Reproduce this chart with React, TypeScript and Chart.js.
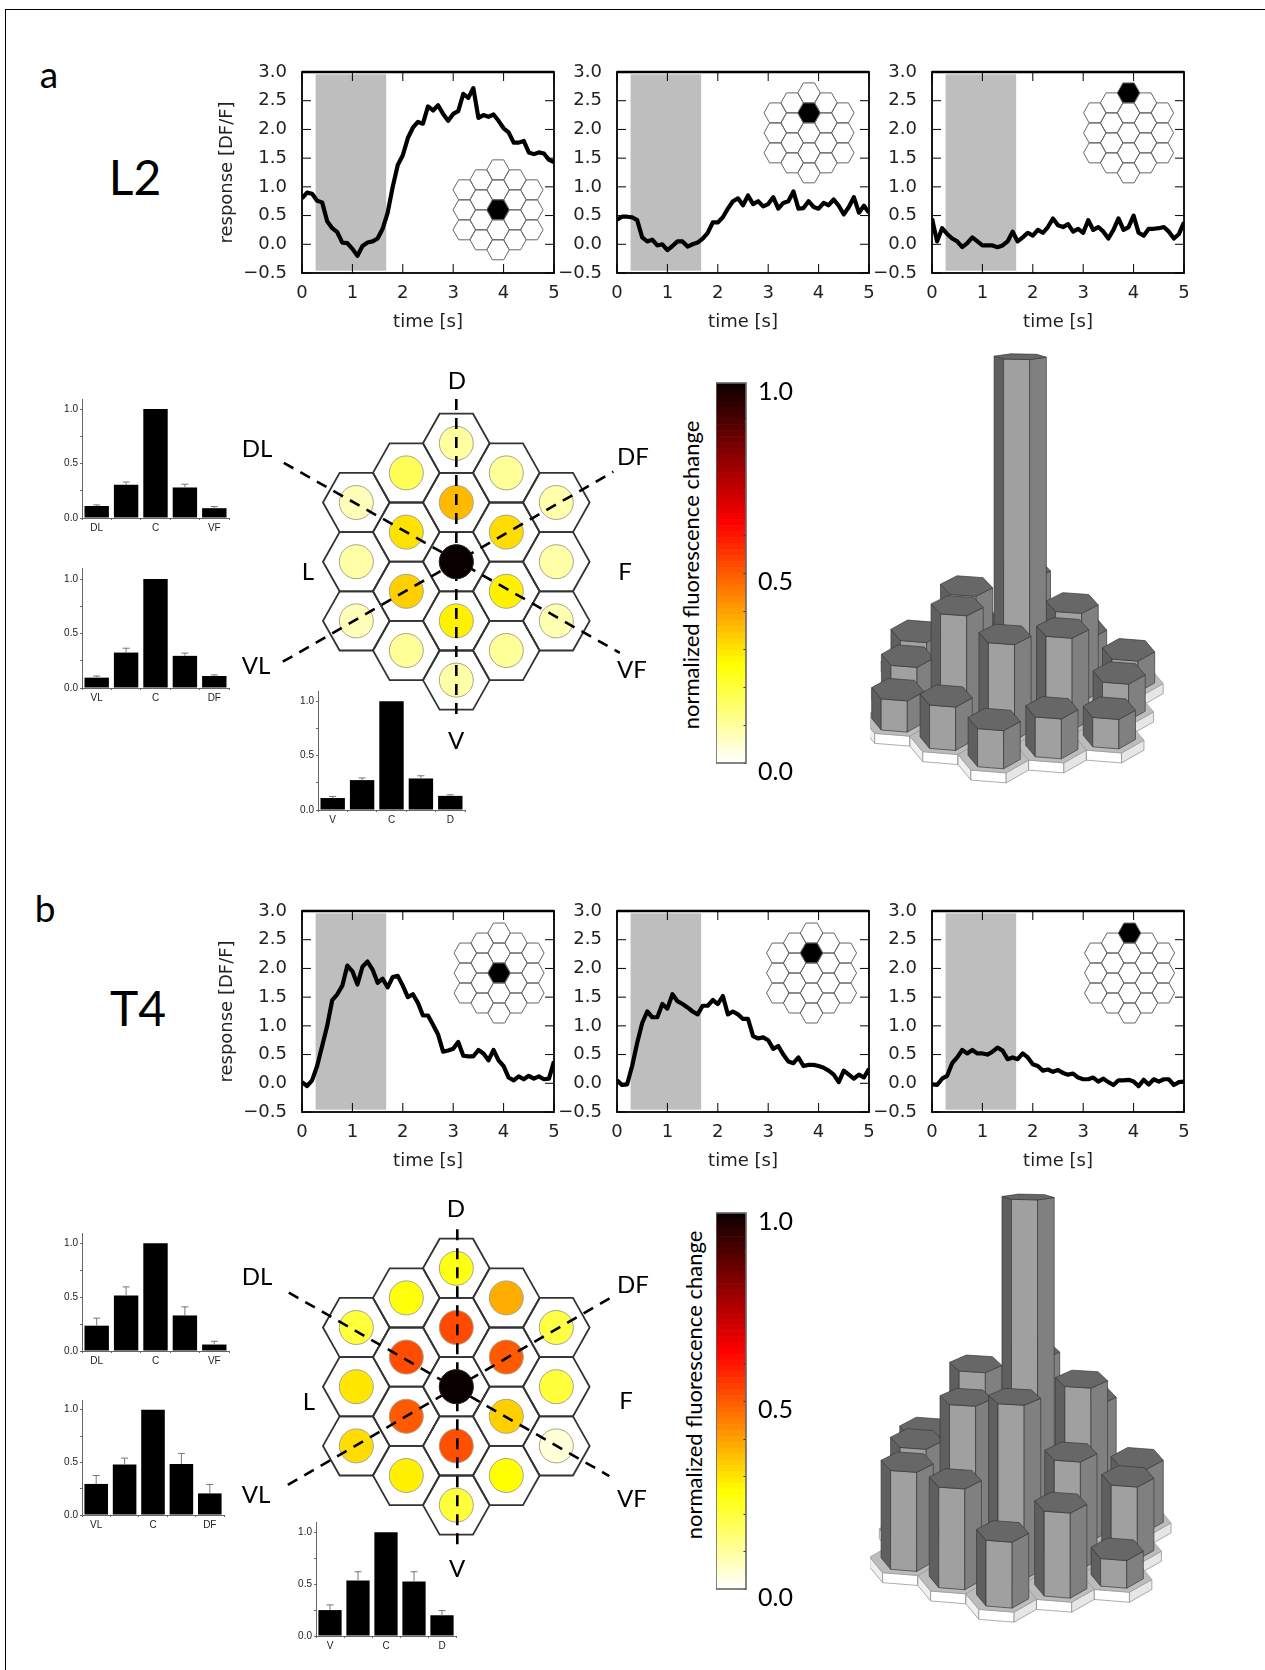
import React, { useEffect, useRef } from "react";
import { Chart, registerables } from "chart.js";
Chart.register(...registerables);

// ---------- data ----------
const timeSeconds = [0,.1,.2,.3,.4,.5,.6,.7,.8,.9,1,1.1,1.2,1.3,1.4,1.5,1.6,1.7,1.8,1.9,2,2.1,2.2,2.3,2.4,2.5,2.6,2.7,2.8,2.9,3,3.1,3.2,3.3,3.4,3.5,3.6,3.7,3.8,3.9,4,4.1,4.2,4.3,4.4,4.5,4.6,4.7,4.8,4.9,5];
const l2Center = [.80,.90,.88,.76,.73,.40,.28,.21,.03,.02,-.08,-.20,-.03,.03,.05,.10,.27,.55,1.00,1.38,1.55,1.85,2.03,2.13,2.10,2.40,2.33,2.42,2.27,2.15,2.27,2.32,2.62,2.55,2.72,2.20,2.25,2.22,2.26,2.15,2.02,1.95,1.77,1.77,1.80,1.60,1.57,1.60,1.58,1.47,1.43];
const l2Near = [.43,.48,.48,.47,.42,.12,.05,.08,-.02,0,-.10,-.03,.05,.05,-.04,0,.03,.10,.20,.38,.38,.47,.62,.75,.80,.68,.85,.70,.75,.66,.70,.82,.62,.72,.75,.92,.62,.63,.75,.65,.62,.72,.68,.78,.67,.52,.65,.82,.55,.67,.55];
const l2Far = [.45,.05,.28,.18,.10,.05,-.05,.02,.12,.05,-.02,-.02,-.02,-.05,-.02,.05,.22,.05,.12,.20,.15,.25,.20,.30,.45,.33,.30,.35,.22,.27,.20,.42,.25,.30,.22,.10,.25,.45,.25,.30,.50,.20,.15,.27,.27,.28,.30,.22,.10,.18,.38];
const t4Center = [.02,-.05,.05,.30,.65,1.00,1.45,1.55,1.70,2.05,1.95,1.72,2.03,2.12,1.98,1.75,1.82,1.67,1.85,1.87,1.70,1.50,1.55,1.40,1.18,1.18,1.02,.85,.55,.57,.60,.72,.48,.47,.47,.58,.52,.40,.58,.40,.30,.10,.05,.12,.07,.13,.08,.12,.07,.08,.38];
const t4Near = [.05,-.03,-.02,.30,.70,1.05,1.25,1.15,1.15,1.38,1.30,1.55,1.43,1.38,1.32,1.25,1.20,1.35,1.35,1.45,1.38,1.52,1.20,1.25,1.20,1.12,1.12,.82,.78,.80,.75,.60,.65,.50,.38,.35,.45,.30,.32,.32,.30,.27,.22,.15,.02,.22,.15,.08,.15,.10,.25];
const t4Far = [-.02,-.03,.08,.13,.35,.45,.58,.52,.58,.52,.52,.50,.55,.62,.57,.42,.45,.42,.52,.45,.33,.30,.22,.24,.20,.23,.18,.15,.17,.10,.07,.07,.10,.03,.08,.02,-.03,.05,.05,.06,.03,-.05,.06,-.02,.07,.03,.07,.07,-.03,.02,.03];
const stimulusWindow = [0.27, 1.67];
const responseTicks = [-0.5, 0, 0.5, 1, 1.5, 2, 2.5, 3];

const l2LabelsDL = ["DL", "", "C", "", "VF"];
const l2LabelsVL = ["VL", "", "C", "", "DF"];
const l2LabelsV = ["V", "", "C", "", "D"];
const l2BarsDL = [.11, .305, 1, .28, .09];
const l2ErrDL = [.12, .33, 1, .31, .105];
const l2BarsVL = [.095, .325, 1, .295, .11];
const l2ErrVL = [.11, .365, 1, .32, .12];
const l2BarsV = [.11, .275, 1, .29, .13];
const l2ErrV = [.125, .295, 1, .315, .14];
const t4BarsDL = [.235, .515, 1, .33, .06];
const t4ErrDL = [.305, .595, 1, .41, .09];
const t4BarsVL = [.295, .48, 1, .485, .205];
const t4ErrVL = [.375, .54, 1, .585, .29];
const t4BarsV = [.25, .535, 1, .525, .2];
const t4ErrV = [.30, .62, 1, .62, .245];

// hexagon columns, left to right; each column from top to bottom
const l2Map = [[.07,.09,.07],[.17,.30,.33,.105],[.098,.36,1,.28,.09],[.105,.31,.28,.105],[.085,.09,.08]];
const t4Map = [[.2,.295,.31],[.25,.52,.50,.28],[.24,.523,1,.515,.2],[.38,.50,.33,.26],[.19,.2,.04]];
const l2Heights = [[.095,.105,.09],[.10,.28,.305,.125],[.10,.30,1,.275,.11],[.10,.255,.265,.115],[.09,.105,.085]];
const t4Heights = [[.22,.27,.285],[.24,.46,.445,.29],[.24,.47,1,.50,.19],[.31,.44,.31,.245],[.18,.21,.08]];

const l2Axes = [[[0,2.75],[0,-2.64]],[[-3.45,1.67],[3.27,-1.54]],[[-3.47,-1.69],[3.14,1.52]]];
const t4Axes = [[[0.02,2.66],[0.02,-2.67]],[[-3.35,1.59],[3.06,-1.51]],[[-3.37,-1.66],[3.18,1.55]]];

const colorStops: [number, number[]][] = [[0,[255,255,255]],[.26,[255,255,0]],[.63,[255,0,0]],[1,[10,0,0]]];
function heat(v: number) {
  for (let i = 1; i < colorStops.length; i++) {
    const [a, ca] = colorStops[i - 1], [b, cb] = colorStops[i];
    if (v <= b) {
      const f = (v - a) / (b - a);
      return `rgb(${ca.map((c, k) => Math.round(c + (cb[k] - c) * f)).join(",")})`;
    }
  }
  return "rgb(10,0,0)";
}

// ---------- helpers ----------
const LATO = "Lato, 'Open Sans', sans-serif";
const HEX = [[-2/3,0],[-1/3,.5],[1/3,.5],[2/3,0],[1/3,-.5],[-1/3,-.5]];
const cellsOf = (cols: number[][]) => cols.flatMap((col, c) => col.map((v, i) => ({ col: c - 2, row: (col.length - 1) / 2 - i, v })));
const base = { animation: false as const, responsive: false, events: [] as string[], maintainAspectRatio: false };
const noLegend = { legend: { display: false }, tooltip: { enabled: false } };
const noPad = (s: any) => { s.paddingTop = 0; s.paddingBottom = 0; s.paddingLeft = 0; s.paddingRight = 0; };

function timePanel(series: number[], inset: number[], active: number[], withTitle: boolean) {
  const plugin = {
    id: "panel",
    beforeDatasetsDraw(c: any) {
      const { ctx, scales: { x, y } } = c;
      ctx.save();
      ctx.fillStyle = "#bebebe";
      ctx.fillRect(x.getPixelForValue(stimulusWindow[0]), y.getPixelForValue(2.96), x.getPixelForValue(stimulusWindow[1]) - x.getPixelForValue(stimulusWindow[0]), y.getPixelForValue(-0.46) - y.getPixelForValue(2.96));
      ctx.restore();
    },
    afterDatasetsDraw(c: any) {
      const { ctx, chartArea: a, scales: { x, y } } = c;
      ctx.save();
      // inset hexagon map
      const rx = 0.335, ry = 0.348;
      cellsOf(l2Map).forEach((cell) => {
        ctx.beginPath();
        HEX.forEach(([dx, dy], i) => {
          const px = x.getPixelForValue(inset[0] + (cell.col + dx) * rx);
          const py = y.getPixelForValue(inset[1] + (cell.row + dy) * ry);
          i ? ctx.lineTo(px, py) : ctx.moveTo(px, py);
        });
        ctx.closePath();
        const on = cell.col === active[0] && cell.row === active[1];
        ctx.fillStyle = on ? "#000" : "rgba(255,255,255,0)";
        ctx.fill();
        ctx.strokeStyle = "#666";
        ctx.lineWidth = 1;
        ctx.stroke();
      });
      // frame and inward ticks
      ctx.strokeStyle = "#000";
      ctx.lineWidth = 1;
      x.ticks.forEach((t: any) => {
        const px = x.getPixelForValue(t.value);
        ctx.beginPath(); ctx.moveTo(px, a.bottom); ctx.lineTo(px, a.bottom - 9); ctx.stroke();
        ctx.beginPath(); ctx.moveTo(px, a.top); ctx.lineTo(px, a.top + 9); ctx.stroke();
      });
      y.ticks.forEach((t: any) => {
        const py = y.getPixelForValue(t.value);
        ctx.beginPath(); ctx.moveTo(a.left, py); ctx.lineTo(a.left + 9, py); ctx.stroke();
        ctx.beginPath(); ctx.moveTo(a.right, py); ctx.lineTo(a.right - 9, py); ctx.stroke();
      });
      ctx.lineWidth = 1.8;
      ctx.strokeRect(a.left, a.top, a.right - a.left, a.bottom - a.top);
      ctx.lineWidth = 2.6;
      ctx.beginPath(); ctx.moveTo(a.left, a.top); ctx.lineTo(a.right, a.top); ctx.stroke();
      ctx.restore();
    },
  };
  const font = { family: "'DejaVu Sans'", size: 18 };
  return {
    type: "scatter",
    data: { datasets: [{ data: series.map((v, i) => ({ x: timeSeconds[i], y: v })), showLine: true, borderColor: "#000", borderWidth: 4.2, pointRadius: 0, tension: 0, borderJoinStyle: "round" }] },
    options: {
      ...base,
      layout: { autoPadding: false, padding: { top: 12, right: 14, left: 0, bottom: 0 } },
      plugins: noLegend,
      scales: {
        x: { type: "linear", min: 0, max: 5, afterFit: (s: any) => { s.height = 70; noPad(s); },
          grid: { display: false }, border: { display: false },
          ticks: { stepSize: 1, color: "#222", font, padding: 2, maxRotation: 0 },
          title: { display: true, text: "time [s]", color: "#222", font, padding: { top: 0, bottom: 10 } } },
        y: { type: "linear", min: -0.5, max: 3, afterFit: (s: any) => { s.width = 90; noPad(s); },
          afterBuildTicks: (s: any) => { s.ticks = responseTicks.map((value) => ({ value })); },
          grid: { display: false }, border: { display: false },
          ticks: { color: "#222", font, padding: 7, callback: (v: number) => (v < 0 ? "\u2212" + Math.abs(v).toFixed(1) : v.toFixed(1)) },
          title: { display: withTitle, text: "response [DF/F]", color: "#222", font, padding: { top: 5, bottom: 5 } } },
      },
    },
    plugins: [plugin],
  };
}

function barPanel(labels: string[], values: number[], tops: number[], plotH: number, yMax: number) {
  const font = { family: "'Liberation Sans'", size: 10 };
  const plugin = {
    id: "err",
    afterDatasetsDraw(c: any) {
      const { ctx, scales: { x, y } } = c;
      ctx.save();
      ctx.strokeStyle = "#777";
      ctx.lineWidth = 1;
      tops.forEach((t, i) => {
        if (t <= values[i]) return;
        const px = x.getPixelForValue(i), a = y.getPixelForValue(values[i]), b = y.getPixelForValue(t);
        ctx.beginPath(); ctx.moveTo(px, a); ctx.lineTo(px, b); ctx.moveTo(px - 3.5, b); ctx.lineTo(px + 3.5, b); ctx.stroke();
      });
      ctx.restore();
    },
  };
  return {
    type: "bar",
    data: { labels, datasets: [{ data: values, backgroundColor: "#000", barPercentage: 0.83, categoryPercentage: 1 }] },
    options: {
      ...base,
      layout: { autoPadding: false, padding: { top: 2, right: 4, left: 0, bottom: 0 } },
      plugins: noLegend,
      scales: {
        x: { afterFit: (s: any) => { s.height = 22; noPad(s); }, grid: { drawOnChartArea: false, tickLength: 2, color: "#666" }, border: { color: "#666" },
          ticks: { font, color: "#222", padding: 2, autoSkip: false, maxRotation: 0 } },
        y: { min: 0, max: yMax, afterFit: (s: any) => { s.width = 30; noPad(s); },
          afterBuildTicks: (s: any) => { s.ticks = [0, .25, .5, .75, 1].map((value) => ({ value })); },
          grid: { drawOnChartArea: false, tickLength: 2, color: "#666" }, border: { color: "#666" },
          ticks: { font, color: "#222", padding: 2, autoSkip: false, callback: (v: number) => (v * 2 === Math.round(v * 2) ? v.toFixed(1) : "") } },
      },
    },
    plugins: [plugin],
  };
}

function hexMap(values: number[][], axes: number[][][], w: number, h: number, ox: number, oy: number) {
  const cells = cellsOf(values);
  const plugin = {
    id: "hexes",
    beforeDatasetsDraw(c: any) {
      const { ctx, scales: { x, y } } = c;
      ctx.save();
      ctx.strokeStyle = "#333";
      ctx.lineWidth = 1.8;
      ctx.lineJoin = "miter";
      cells.forEach((cell) => {
        ctx.beginPath();
        HEX.forEach(([dx, dy], i) => {
          const px = x.getPixelForValue(cell.col + dx), py = y.getPixelForValue(cell.row + dy);
          i ? ctx.lineTo(px, py) : ctx.moveTo(px, py);
        });
        ctx.closePath();
        ctx.stroke();
      });
      ctx.restore();
    },
  };
  const lines = axes.map((seg) => ({
    data: seg.map(([a, b]) => ({ x: a, y: b })), showLine: true, pointRadius: 0, borderColor: "#000", borderWidth: 2.6, borderDash: [11, 8], order: 1,
  }));
  return {
    type: "scatter",
    data: { datasets: [
      { data: cells.filter((c) => c.v === 1).map((c) => ({ x: c.col, y: c.row })), pointRadius: 17, pointBackgroundColor: heat(1), pointBorderColor: "#222", pointBorderWidth: 1, order: 0 },
      ...lines,
      { data: cells.map((c) => ({ x: c.col, y: c.row })), pointRadius: 17, pointBackgroundColor: cells.map((c) => heat(c.v)), pointBorderColor: "#a5a58a", pointBorderWidth: 1, order: 2 },
    ] },
    options: {
      ...base,
      layout: { autoPadding: false, padding: 0 },
      plugins: noLegend,
      scales: {
        x: { type: "linear", display: false, min: -ox / 50, max: (w - ox) / 50 },
        y: { type: "linear", display: false, min: -(h - oy) / 59.2, max: oy / 59.2 },
      },
    },
    plugins: [plugin],
  };
}

function tower(heights: number[][], w: number, h: number, ox: number, oy: number, unit: number) {
  const cells = cellsOf(heights);
  const U = [52.9, 4.2], V = [9.6, -28.3];
  const plugin = {
    id: "tower",
    afterDatasetsDraw(c: any) {
      const { ctx, scales: { x, y } } = c;
      const pt = (col: number, row: number, z: number, dc: number, dr: number, depth: number, shift = 0) => [
        x.getPixelForValue(ox + (col + dc) * U[0] + (row + dr) * V[0] + shift),
        y.getPixelForValue(oy + (col * U[1] + row * V[1]) + (dc * U[1] + dr * V[1]) * depth - z),
      ];
      const poly = (pts: number[][], fill: string, stroke: string, lw: number) => {
        ctx.beginPath();
        pts.forEach((p, i) => (i ? ctx.lineTo(p[0], p[1]) : ctx.moveTo(p[0], p[1])));
        ctx.closePath();
        ctx.fillStyle = fill; ctx.fill();
        ctx.strokeStyle = stroke; ctx.lineWidth = lw; ctx.stroke();
      };
      const faces: [number, number, number][] = [[0, 5, 0], [5, 4, 1], [4, 3, 2]];
      const order = [...cells].sort((a, b) => (a.col * U[1] + a.row * V[1]) - (b.col * U[1] + b.row * V[1]));
      ctx.save();
      ctx.lineJoin = "round";
      const plateSides = ["#efefef", "#ffffff", "#e6e6e6"];
      order.forEach((cell) => {
        faces.forEach(([a, b, s]) => {
          const pA = pt(cell.col, cell.row, 0, HEX[a][0], HEX[a][1], 1), pB = pt(cell.col, cell.row, 0, HEX[b][0], HEX[b][1], 1);
          const qA = pt(cell.col, cell.row, -10, HEX[a][0], HEX[a][1], 1), qB = pt(cell.col, cell.row, -10, HEX[b][0], HEX[b][1], 1);
          poly([pA, pB, qB, qA], plateSides[s], "#8a8a8a", 0.7);
        });
        poly(HEX.map(([dx, dy]) => pt(cell.col, cell.row, 0, dx, dy, 1)), "#bcbcbc", "#999", 0.7);
      });
      const sides = ["#5f5f5f", "#a0a0a0", "#808080"];
      const S = 0.74;
      order.forEach((cell) => {
        const z = cell.v * unit;
        const depth = 1 - 0.75 * Math.pow(cell.v, 1.5);
        const shift = z * 0.0224;
        faces.forEach(([a, b, s]) => {
          const p1 = pt(cell.col, cell.row, 0, HEX[a][0] * S, HEX[a][1] * S, 1, shift), p2 = pt(cell.col, cell.row, 0, HEX[b][0] * S, HEX[b][1] * S, 1, shift);
          const p3 = pt(cell.col, cell.row, z, HEX[b][0] * S, HEX[b][1] * S, depth, shift), p4 = pt(cell.col, cell.row, z, HEX[a][0] * S, HEX[a][1] * S, depth, shift);
          poly([p1, p2, p3, p4], sides[s], "#3a3a3a", 0.7);
        });
        poly(HEX.map(([dx, dy]) => pt(cell.col, cell.row, z, dx * S, dy * S, depth, shift)), "#676767", "#3a3a3a", 0.7);
      });
      ctx.restore();
    },
  };
  return {
    type: "scatter",
    data: { datasets: [{ data: [], pointRadius: 0 }] },
    options: {
      ...base,
      layout: { autoPadding: false, padding: 0 },
      plugins: noLegend,
      scales: {
        x: { type: "linear", display: false, min: 0, max: w },
        y: { type: "linear", display: false, min: 0, max: h, reverse: true },
      },
    },
    plugins: [plugin],
  };
}

const colorLevels = Array.from({ length: 64 }, (_, i) => (i + 0.5) / 64);
function colorBar() {
  const plugin = {
    id: "cbar",
    afterDatasetsDraw(c: any) {
      const { ctx, chartArea: a, scales: { y } } = c;
      ctx.save();
      ctx.strokeStyle = "#333";
      ctx.lineWidth = 1;
      y.ticks.forEach((t: any) => {
        const py = Math.round(y.getPixelForValue(t.value)) + 0.5;
        ctx.beginPath(); ctx.moveTo(a.right, py); ctx.lineTo(a.right - 2.5, py); ctx.stroke();
      });
      ctx.strokeStyle = "#666";
      ctx.lineWidth = 1.6;
      ctx.strokeRect(a.left, a.top, a.right - a.left, a.bottom - a.top);
      ctx.restore();
    },
  };
  return {
    type: "bar",
    data: { labels: [""], datasets: colorLevels.map((v) => ({ data: [1 / 64], backgroundColor: heat(v), barPercentage: 1, categoryPercentage: 1 })) },
    options: {
      ...base,
      layout: { autoPadding: false, padding: { top: 20, bottom: 30, left: 0, right: 0 } },
      plugins: noLegend,
      scales: {
        x: { stacked: true, display: false },
        y: { stacked: true, position: "right", min: 0, max: 1, afterFit: (s: any) => { s.width = 60; noPad(s); },
          grid: { display: false, drawTicks: false }, border: { display: false },
          afterBuildTicks: (s: any) => { s.ticks = [0,.1,.2,.3,.4,.5,.6,.7,.8,.9,1].map((value) => ({ value })); },
          ticks: { autoSkip: false, padding: 12, labelOffset: 9, color: "#000", font: { family: LATO, size: 25 },
            callback: (v: number) => (Math.abs(v * 2 - Math.round(v * 2)) < 1e-6 ? v.toFixed(1) : "") } },
      },
    },
    plugins: [plugin],
  };
}

// ---------- placement ----------
const panels: { l: number; t: number; w: number; h: number; cfg: () => any }[] = [];
const timeLefts = [302, 617, 932];
const timeRows = [
  { top: 72, sets: [l2Center, l2Near, l2Far], insets: [[3.89, .6], [3.81, 1.94], [3.9, 1.94]] },
  { top: 911, sets: [t4Center, t4Near, t4Far], insets: [[3.91, 1.92], [3.86, 1.92], [3.92, 1.92]] },
];
const activeCells = [[0, 0], [0, 1], [0, 2]];
timeRows.forEach((row) => row.sets.forEach((s, i) => {
  panels.push({ l: timeLefts[i] - 90, t: row.top - 12, w: 90 + 252 + 14, h: 12 + 201 + 70, cfg: () => timePanel(s, row.insets[i], activeCells[i], i === 0) });
}));
const addBar = (labels: string[], vals: number[], tops: number[], axisX: number, axisEnd: number, y0: number, y1: number, yTop: number) => {
  const yMax = (y0 - yTop) / (y0 - y1);
  panels.push({ l: Math.round(axisX) - 30, t: Math.round(yTop) - 2, w: 30 + Math.round(axisEnd - axisX) + 4, h: 2 + Math.round(y0 - yTop) + 22, cfg: () => barPanel(labels, vals, tops, y0 - yTop, yMax) });
};
addBar(l2LabelsDL, l2BarsDL, l2ErrDL, 82, 229, 518.3, 409.3, 399.3);
addBar(l2LabelsVL, l2BarsVL, l2ErrVL, 82, 229, 688, 579, 568);
addBar(l2LabelsV, l2BarsV, l2ErrV, 318, 465, 810, 701.3, 691);
addBar(l2LabelsDL, t4BarsDL, t4ErrDL, 82, 229, 1351.3, 1243.3, 1233);
addBar(l2LabelsVL, t4BarsVL, t4ErrVL, 82, 224, 1515, 1409.7, 1400);
addBar(l2LabelsV, t4BarsV, t4ErrV, 316, 456, 1635.3, 1532, 1521.7);

panels.push({ l: 270, t: 385, w: 370, h: 345, cfg: () => hexMap(l2Map, l2Axes, 370, 345, 186.3, 176.7) });
panels.push({ l: 270, t: 1210, w: 370, h: 345, cfg: () => hexMap(t4Map, t4Axes, 370, 345, 186.3, 176.7) });
panels.push({ l: 870, t: 350, w: 390, h: 440, cfg: () => tower(l2Heights, 390, 440, 142.5, 350.7, 344) });
panels.push({ l: 870, t: 1180, w: 390, h: 460, cfg: () => tower(t4Heights, 390, 460, 150.4, 360, 343) });
panels.push({ l: 716, t: 363, w: 90, h: 430, cfg: colorBar });
panels.push({ l: 716, t: 1193, w: 90, h: 426, cfg: colorBar });

const words: { s: string; x: number; y: number; z: number; r?: number }[] = [
  { s: "a", x: 49, y: 73, z: 37 }, { s: "b", x: 45, y: 907, z: 37 },
  { s: "L2", x: 135, y: 177, z: 48 }, { s: "T4", x: 138, y: 1008, z: 48 },
  { s: "D", x: 457, y: 380, z: 24 }, { s: "DL", x: 257, y: 448, z: 24 }, { s: "DF", x: 633, y: 456, z: 24 },
  { s: "L", x: 308, y: 571, z: 24 }, { s: "F", x: 625, y: 571, z: 24 }, { s: "VL", x: 256, y: 665, z: 24 },
  { s: "VF", x: 632, y: 669, z: 24 }, { s: "V", x: 456, y: 740, z: 24 },
  { s: "D", x: 456, y: 1208, z: 24 }, { s: "DL", x: 257, y: 1276, z: 24 }, { s: "DF", x: 633, y: 1284, z: 24 },
  { s: "L", x: 309, y: 1401, z: 24 }, { s: "F", x: 626, y: 1400, z: 24 }, { s: "VL", x: 256, y: 1494, z: 24 },
  { s: "VF", x: 632, y: 1498, z: 24 }, { s: "V", x: 457, y: 1568, z: 24 },
  { s: "normalized fluorescence change", x: 691, y: 575, z: 22, r: -90 },
  { s: "normalized fluorescence change", x: 694, y: 1385, z: 22, r: -90 },
];

function Panel({ l, t, w, h, cfg }: { l: number; t: number; w: number; h: number; cfg: () => any }) {
  const ref = useRef<HTMLCanvasElement>(null);
  useEffect(() => {
    const chart = new Chart(ref.current as HTMLCanvasElement, cfg());
    return () => chart.destroy();
  }, []);
  return <canvas ref={ref} width={w} height={h} style={{ position: "absolute", left: l, top: t, width: w, height: h }} />;
}

export default function App() {
  return (
    <div style={{ position: "absolute", left: 0, top: 0, width: 1265, height: 1670, background: "#fff", overflow: "hidden" }}>
      <div style={{ position: "absolute", left: 5, top: 9, right: 0, bottom: 0, borderLeft: "1px solid #000", borderTop: "1px solid #000" }} />
      {panels.map((p, i) => <Panel key={i} {...p} />)}
      {words.map((w, i) => (
        <div key={i} style={{ position: "absolute", left: w.x, top: w.y, fontFamily: LATO, fontSize: w.z, lineHeight: 1, color: "#000", whiteSpace: "nowrap", transform: `translate(-50%,-50%) rotate(${w.r || 0}deg)` }}>{w.s}</div>
      ))}
    </div>
  );
}
